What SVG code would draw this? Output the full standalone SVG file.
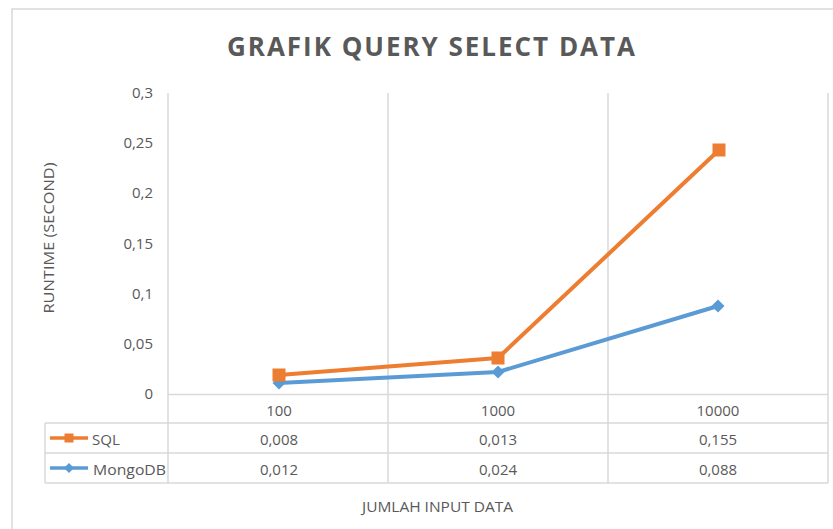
<svg xmlns="http://www.w3.org/2000/svg" width="833" height="529" viewBox="0 0 833 529">
<style>
.t{font-family:"Open Sans","Liberation Sans",sans-serif;fill:#595959}
.tick{font-size:15px;text-anchor:end}
.cell{font-size:15px;text-anchor:middle}
.grid{stroke:#d9d9d9;stroke-width:1.5;fill:none}
.sql{stroke:#ED7D31;stroke-width:4;fill:none;stroke-linejoin:round}
.mongo{stroke:#5B9BD5;stroke-width:4;fill:none;stroke-linejoin:round}
</style>
<defs>
<rect id="sq" x="-6.5" y="-6.5" width="13" height="13" fill="#ED7D31"/>
<polygon id="dm" points="0,-6.5 6.5,0 0,6.5 -6.5,0" fill="#5B9BD5"/>
<rect id="sqs" x="-4.5" y="-4.5" width="9" height="9" fill="#ED7D31"/>
<polygon id="dms" points="0,-5 5,0 0,5 -5,0" fill="#5B9BD5"/>
</defs>
<rect width="833" height="529" fill="#ffffff"/>
<path class="grid" d="M12,529 V9 H833"/>
<g id="title">
<text class="t" x="227" y="56" font-size="26" font-weight="bold" textLength="408" lengthAdjust="spacing">GRAFIK QUERY SELECT DATA</text>
</g>
<g id="y-axis">
<text class="t tick" x="153" y="98">0,3</text>
<text class="t tick" x="153" y="148">0,25</text>
<text class="t tick" x="153" y="198">0,2</text>
<text class="t tick" x="153" y="249">0,15</text>
<text class="t tick" x="153" y="299">0,1</text>
<text class="t tick" x="153" y="349">0,05</text>
<text class="t tick" x="153" y="399">0</text>
<text class="t" transform="translate(54,238) rotate(-90)" font-size="15" text-anchor="middle" textLength="151" lengthAdjust="spacingAndGlyphs">RUNTIME (SECOND)</text>
</g>
<g id="grid-table">
<path class="grid" d="M168,93 V483 M388,93 V483 M608,93 V483 M828,93 V483 M168,394.5 H828 M45,423 H828 M45,453 H828 M45,483 H828 M45,423 V483"/>
</g>
<g id="connectors">
<polyline class="sql" points="279,375 498,358 719,150"/>
<polyline class="mongo" points="279,383 498,372 718,306"/>
</g>
<g id="series-mongodb">
<use href="#dm" x="279" y="383"/>
<use href="#dm" x="498" y="372"/>
<use href="#dm" x="718" y="306"/>
</g>
<g id="series-sql">
<use href="#sq" x="279" y="375"/>
<use href="#sq" x="498" y="358"/>
<use href="#sq" x="719" y="150"/>
</g>
<g id="categories">
<text class="t cell" x="279" y="416">100</text>
<text class="t cell" x="498" y="416">1000</text>
<text class="t cell" x="718" y="416">10000</text>
</g>
<g id="row-sql">
<line x1="50" y1="438" x2="88" y2="438" stroke="#ED7D31" stroke-width="3.5"/>
<use href="#sqs" x="69" y="438"/>
<text class="t" x="92" y="445" font-size="15">SQL</text>
<text class="t cell" x="279" y="445">0,008</text>
<text class="t cell" x="498" y="445">0,013</text>
<text class="t cell" x="718" y="445">0,155</text>
</g>
<g id="row-mongodb">
<line x1="50" y1="468" x2="88" y2="468" stroke="#5B9BD5" stroke-width="3.5"/>
<use href="#dms" x="69" y="468"/>
<text class="t" x="93" y="475" font-size="15" textLength="73" lengthAdjust="spacingAndGlyphs">MongoDB</text>
<text class="t cell" x="279" y="475">0,012</text>
<text class="t cell" x="498" y="475">0,024</text>
<text class="t cell" x="718" y="475">0,088</text>
</g>
<g id="x-axis-title">
<text class="t" x="362" y="512" font-size="14.5" textLength="151" lengthAdjust="spacingAndGlyphs">JUMLAH INPUT DATA</text>
</g>
</svg>
